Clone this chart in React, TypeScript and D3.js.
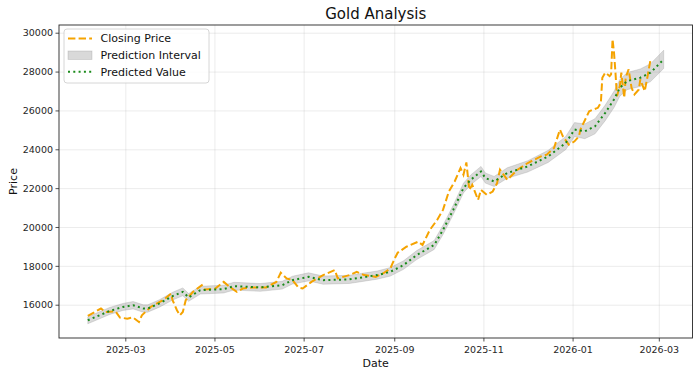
import React from "react";
import * as d3 from "d3";

const closeDates = [
  "2025-02-03","2025-02-12","2025-02-15","2025-02-22","2025-02-25","2025-03-02","2025-03-06","2025-03-10","2025-03-12","2025-03-18",
  "2025-03-27","2025-04-01","2025-04-02","2025-04-05","2025-04-07","2025-04-09","2025-04-11","2025-04-16","2025-04-22","2025-04-24",
  "2025-05-01","2025-05-07","2025-05-11","2025-05-16","2025-05-20","2025-05-27","2025-06-05","2025-06-12","2025-06-15","2025-06-19",
  "2025-06-23","2025-06-27","2025-06-30","2025-07-06","2025-07-14","2025-07-22","2025-07-24","2025-08-01","2025-08-06","2025-08-11",
  "2025-08-19","2025-08-24","2025-08-29","2025-09-01","2025-09-03","2025-09-09","2025-09-17","2025-09-20","2025-09-25","2025-09-30",
  "2025-10-04","2025-10-08","2025-10-12","2025-10-16","2025-10-18","2025-10-20","2025-10-22","2025-10-24","2025-10-28","2025-10-30",
  "2025-11-03","2025-11-07","2025-11-10","2025-11-12","2025-11-17","2025-11-24","2025-12-01","2025-12-10","2025-12-14","2025-12-19",
  "2025-12-23","2025-12-25","2025-12-29","2026-01-02","2026-01-05","2026-01-06","2026-01-12","2026-01-18","2026-01-20","2026-01-21",
  "2026-01-23","2026-01-26","2026-01-27","2026-01-28","2026-01-29","2026-01-30","2026-01-31","2026-02-02","2026-02-03","2026-02-05",
  "2026-02-06","2026-02-08","2026-02-10","2026-02-12","2026-02-15","2026-02-16","2026-02-19","2026-02-21","2026-02-23",
];
const closeValues = [
  15450,15830,15650,15680,15365,15310,15370,15140,15480,15910,
  16290,16600,16260,15740,15480,15650,16260,16690,17030,16810,
  16850,17200,16945,16690,16860,16915,16915,17200,17670,17380,
  17290,16915,16860,17200,17550,17810,17380,17550,17720,17550,
  17460,17635,17895,18410,18700,19010,19270,19100,19875,20390,
  20905,21850,22370,23060,22715,23350,21940,22200,21420,21940,
  21680,21850,22285,22975,22455,22975,23320,23660,23750,24095,
  25040,24695,24265,24435,24695,25040,25985,26160,26415,27710,
  27970,27795,27880,29690,29000,27970,26760,27280,27970,26675,
  27710,28140,27190,26850,27105,27620,27020,27800,28655,
];

const predDates = [
  "2025-02-03","2025-02-18","2025-02-27","2025-03-06","2025-03-13","2025-03-16","2025-03-24","2025-04-02","2025-04-09","2025-04-13",
  "2025-04-21","2025-05-07","2025-05-14","2025-06-01","2025-06-16","2025-06-23","2025-07-04","2025-07-14","2025-08-01","2025-08-20",
  "2025-08-29","2025-09-07","2025-09-16","2025-09-28","2025-10-04","2025-10-11","2025-10-18","2025-10-23","2025-10-30","2025-11-02",
  "2025-11-08","2025-11-17","2025-12-01","2025-12-15","2025-12-27","2026-01-02","2026-01-09","2026-01-16","2026-01-23","2026-01-29",
  "2026-02-02","2026-02-07","2026-02-16","2026-02-23","2026-03-04",
];
const predValues = [
  15225,15705,15910,16000,15830,15830,16090,16465,16690,16400,
  16775,16830,16980,16915,17030,17290,17460,17290,17330,17550,
  17720,18065,18580,19100,19875,20905,22030,22455,22885,22545,
  22370,22805,23145,23660,24350,25040,24950,25210,25900,26590,
  27190,27535,27710,27970,28655,
];
const predHalfWidth = [
  180,180,180,190,190,190,190,200,200,200,
  200,200,200,200,200,200,210,210,210,210,
  220,220,230,230,240,240,250,250,260,260,
  260,270,290,310,340,360,380,390,400,420,
  430,440,450,460,470,
];

const yTicks = [16000, 18000, 20000, 22000, 24000, 26000, 28000, 30000];
const xTickDates = ["2025-03-01","2025-05-01","2025-07-01","2025-09-01","2025-11-01","2026-01-01","2026-03-01"];

const parse = d3.utcParse("%Y-%m-%d");
const fmt = d3.utcFormat("%Y-%m");
const FONT = "DejaVu Sans, sans-serif";

export default function App() {
  const W = 700, H = 376;
  const left = 59, right = 692.5, top = 25, bottom = 338;

  const close = closeDates.map((d, i) => ({ date: parse(d)!, v: closeValues[i] }));
  const pred = predDates.map((d, i) => ({ date: parse(d)!, v: predValues[i], lo: predValues[i] - predHalfWidth[i], hi: predValues[i] + predHalfWidth[i] }));

  const allDates = [...close.map(d => d.date), ...pred.map(d => d.date)];
  const [x0, x1] = d3.extent(allDates) as [Date, Date];
  const xs = +x1 - +x0;
  const x = d3.scaleUtc().domain([new Date(+x0 - xs * 0.05), new Date(+x1 + xs * 0.05)]).range([left, right]);

  const yMin = Math.min(d3.min(close, d => d.v)!, d3.min(pred, d => d.lo)!);
  const yMax = Math.max(d3.max(close, d => d.v)!, d3.max(pred, d => d.hi)!);
  const ys = yMax - yMin;
  const y = d3.scaleLinear().domain([yMin - ys * 0.05, yMax + ys * 0.05]).range([bottom, top]);

  const area = d3.area<any>().x(d => x(d.date)).y0(d => y(d.lo)).y1(d => y(d.hi));
  const line = d3.line<any>().x(d => x(d.date)).y(d => y(d.v));

  const xTicks = xTickDates.map(d => parse(d)!);
  const axisColor = "#262626";

  return (
    <svg width={W} height={H} style={{ position: "absolute", left: 0, top: 0, background: "#fff" }} fontFamily={FONT}>
      <rect x={0} y={0} width={W} height={H} fill="#fff" />
      <defs>
        <clipPath id="plot"><rect x={left} y={top} width={right - left} height={bottom - top} /></clipPath>
      </defs>
      {/* grid */}
      {yTicks.map(t => (
        <line key={"gy" + t} x1={left} x2={right} y1={y(t)} y2={y(t)} stroke="#b0b0b0" strokeOpacity={0.3} strokeWidth={0.8} />
      ))}
      {xTicks.map((t, i) => (
        <line key={"gx" + i} x1={x(t)} x2={x(t)} y1={top} y2={bottom} stroke="#b0b0b0" strokeOpacity={0.3} strokeWidth={0.8} />
      ))}
      <g clipPath="url(#plot)">
        <path d={area(pred)!} fill="#808080" fillOpacity={0.3} stroke="#808080" strokeOpacity={0.3} strokeWidth={0.8} />
        <path d={line(close)!} fill="none" stroke="#F5A300" strokeWidth={2} strokeDasharray="7.4 3.2" />
        <path d={line(pred)!} fill="none" stroke="#1a8a1a" strokeWidth={2} strokeDasharray="2 3.3" />
      </g>
      {/* spines */}
      <rect x={left} y={top} width={right - left} height={bottom - top} fill="none" stroke={axisColor} strokeWidth={0.9} />
      {/* y ticks */}
      {yTicks.map(t => (
        <g key={"ty" + t}>
          <line x1={left - 3.5} x2={left} y1={y(t)} y2={y(t)} stroke={axisColor} strokeWidth={0.8} />
          <text x={left - 6} y={y(t)} dy="0.34em" textAnchor="end" fontSize={9.5} fill={axisColor}>{t}</text>
        </g>
      ))}
      {/* x ticks */}
      {xTicks.map((t, i) => (
        <g key={"tx" + i}>
          <line x1={x(t)} x2={x(t)} y1={bottom} y2={bottom + 3.5} stroke={axisColor} strokeWidth={0.8} />
          <text x={x(t)} y={bottom + 14.5} textAnchor="middle" fontSize={9.5} fill={axisColor}>{fmt(t)}</text>
        </g>
      ))}
      {/* labels */}
      <text x={(left + right) / 2} y={366.5} textAnchor="middle" fontSize={11} fill="#111">Date</text>
      <text transform={`translate(17,${(top + bottom) / 2}) rotate(-90)`} textAnchor="middle" fontSize={11} fill="#111">Price</text>
      <text x={(left + right) / 2} y={19} textAnchor="middle" fontSize={15} fill="#111">Gold Analysis</text>
      {/* legend */}
      <g>
        <rect x={64} y={29} width={145} height={54} rx={3} fill="#fff" fillOpacity={0.8} stroke="#cccccc" strokeWidth={0.8} />
        <line x1={68} x2={92} y1={38.5} y2={38.5} stroke="#F5A300" strokeWidth={2} strokeDasharray="7.4 3.2" />
        <text x={100.5} y={38.5} dy="0.36em" fontSize={11} fill="#111">Closing Price</text>
        <rect x={68} y={51} width={24} height={8.5} fill="#808080" fillOpacity={0.3} stroke="#808080" strokeOpacity={0.3} strokeWidth={0.8} />
        <text x={100.5} y={55} dy="0.36em" fontSize={11} fill="#111">Prediction Interval</text>
        <line x1={68} x2={92} y1={71.7} y2={71.7} stroke="#1a8a1a" strokeWidth={2} strokeDasharray="2 3.3" />
        <text x={100.5} y={71.7} dy="0.36em" fontSize={11} fill="#111">Predicted Value</text>
      </g>
    </svg>
  );
}
